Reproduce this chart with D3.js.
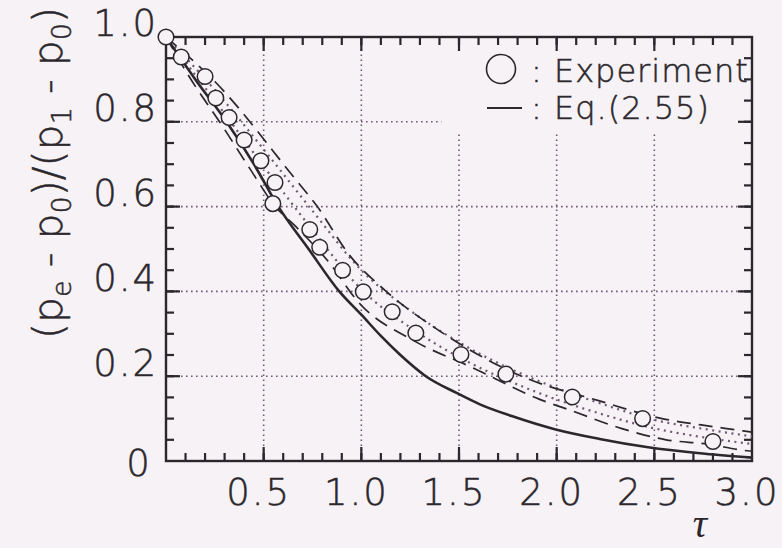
<!DOCTYPE html>
<html>
<head>
<meta charset="utf-8">
<script src="https://cdn.jsdelivr.net/npm/d3@7"></script>
<style>
body { margin: 0; background: #f6f2f5; }
</style>
</head>
<body>
<div class="chart"></div>
<script>
// values
const xTickVals = [0.5, 1.0, 1.5, 2.0, 2.5, 3.0];
const xTickLabels = ["0.5", "1.0", "1.5", "2.0", "2.5", "3.0"];
const yTickVals = [0.2, 0.4, 0.6, 0.8, 1.0];
const yTickLabels = ["0.2", "0.4", "0.6", "0.8", "1.0"];

// experiment (circles)
const expTau = [0, 0.078, 0.20, 0.255, 0.323, 0.40, 0.486, 0.558, 0.547, 0.736, 0.787, 0.904, 1.01, 1.158, 1.279, 1.51, 1.74, 2.08, 2.44, 2.80];
const expVal = [1.0, 0.953, 0.907, 0.856, 0.81, 0.757, 0.708, 0.657, 0.607, 0.546, 0.504, 0.45, 0.399, 0.352, 0.302, 0.251, 0.205, 0.151, 0.10, 0.046];

// Eq.(2.55) (solid)
const eqTau = [0, 0.15, 0.31, 0.45, 0.575, 0.73, 0.887, 1.0, 1.1, 1.2, 1.33, 1.49, 1.61, 1.77, 1.99, 2.22, 2.46, 2.76, 3.0];
const eqVal = [1.0, 0.90, 0.80, 0.70, 0.60, 0.50, 0.40, 0.345, 0.295, 0.25, 0.20, 0.16, 0.133, 0.106, 0.075, 0.052, 0.033, 0.017, 0.008];

// band round the experiment: dashed bounds
const upTau = [0, 0.25, 0.66, 0.77, 0.94, 1.12, 1.40, 1.84, 2.21, 2.54, 2.74, 2.94, 3.0];
const upVal = [1.0, 0.895, 0.666, 0.603, 0.485, 0.403, 0.307, 0.196, 0.143, 0.10, 0.085, 0.072, 0.068];
const loTau = [0, 0.11, 0.30, 0.43, 0.56, 0.66, 0.83, 0.99, 1.26, 1.57, 1.91, 2.08, 2.33, 2.56, 2.77, 2.96, 3.0];
const loVal = [1.0, 0.913, 0.782, 0.689, 0.60, 0.555, 0.471, 0.372, 0.286, 0.22, 0.146, 0.118, 0.077, 0.05, 0.04, 0.025, 0.023];

// band: dotted lines inside
const dotTau = [0, 0.25, 0.5, 0.75, 1.0, 1.25, 1.5, 1.75, 2.0, 2.25, 2.5, 2.75, 3.0];
const dotHiVal = [1.0, 0.875, 0.735, 0.59, 0.45, 0.355, 0.28, 0.22, 0.172, 0.132, 0.097, 0.076, 0.058];
const dotLoVal = [1.0, 0.85, 0.695, 0.545, 0.405, 0.315, 0.245, 0.19, 0.145, 0.108, 0.077, 0.056, 0.04];

const xGrid = [0.5, 1.0, 1.5, 2.0, 2.5];
const yGrid = [0.2, 0.4, 0.6, 0.8];

function init(){

    const w = 782, h = 548;
    const left = 166, right = 752, top = 37, bottom = 461;
    const bg = "#f6f2f5", ink = "#2b272c", gridInk = "#6e5a72";
    const font = "'DejaVu Sans', sans-serif";

    const x = d3.scaleLinear().domain([0, 3]).range([left, right]);
    const y = d3.scaleLinear().domain([0, 1]).range([bottom, top]);

    const svg = d3.select(".chart").append("svg").attr("width", w).attr("height", h).style("display", "block");
    svg.append("rect").attr("width", w).attr("height", h).attr("fill", bg);

    svg.append("clipPath").attr("id", "plot")
      .append("rect").attr("x", left).attr("y", top).attr("width", right - left).attr("height", bottom - top);

    // dotted grid, kept clear of the legend corner
    const grid = svg.append("g")
      .attr("stroke", gridInk)
      .attr("stroke-width", 1.6)
      .attr("stroke-dasharray", "1.6,3.4");

    grid.selectAll(".gx").data(xGrid).join("line").attr("class", "gx")
      .attr("x1", d => x(d)).attr("x2", d => x(d))
      .attr("y1", y(0)).attr("y2", d => d > 1.2 ? y(0.77) : y(1));

    grid.selectAll(".gy").data(yGrid).join("line").attr("class", "gy")
      .attr("y1", d => y(d)).attr("y2", d => y(d))
      .attr("x1", x(0)).attr("x2", d => d > 0.7 ? x(1.41) : x(3));

    // ticks on all four sides, pointing inward
    const minorX = d3.range(1, 30).map(i => i / 10);
    const minorY = d3.range(1, 20).map(i => i / 20);
    const ticks = svg.append("g").attr("stroke", ink).attr("stroke-width", 2.2);

    function xTicks(vals, len){
        ticks.append("g").selectAll("line").data(vals).join("line")
          .attr("x1", d => x(d)).attr("x2", d => x(d))
          .attr("y1", bottom).attr("y2", bottom - len);
        ticks.append("g").selectAll("line").data(vals).join("line")
          .attr("x1", d => x(d)).attr("x2", d => x(d))
          .attr("y1", top).attr("y2", top + len);
    }
    function yTicks(vals, len){
        ticks.append("g").selectAll("line").data(vals).join("line")
          .attr("y1", d => y(d)).attr("y2", d => y(d))
          .attr("x1", left).attr("x2", left + len);
        ticks.append("g").selectAll("line").data(vals).join("line")
          .attr("y1", d => y(d)).attr("y2", d => y(d))
          .attr("x1", right).attr("x2", right - len);
    }
    xTicks(minorX, 8);
    xTicks(xGrid, 14);
    yTicks(minorY, 8);
    yTicks(yGrid, 14);

    svg.append("rect")
      .attr("x", left).attr("y", top)
      .attr("width", right - left).attr("height", bottom - top)
      .attr("fill", "none").attr("stroke", ink).attr("stroke-width", 2.4);

    // curves
    const line = d3.line().x(d => x(d[0])).y(d => y(d[1])).curve(d3.curveMonotoneX);
    const zip = (a, b) => a.map((t, i) => [t, b[i]]);
    const curves = svg.append("g").attr("clip-path", "url(#plot)").attr("fill", "none");

    curves.append("path").attr("d", line(zip(dotTau, dotHiVal)))
      .attr("stroke", gridInk).attr("stroke-width", 2.2).attr("stroke-dasharray", "2,4.5");
    curves.append("path").attr("d", line(zip(dotTau, dotLoVal)))
      .attr("stroke", gridInk).attr("stroke-width", 2.2).attr("stroke-dasharray", "2,4.5");

    curves.append("path").attr("d", line(zip(upTau, upVal)))
      .attr("stroke", ink).attr("stroke-width", 1.7).attr("stroke-dasharray", "14,8");
    curves.append("path").attr("d", line(zip(loTau, loVal)))
      .attr("stroke", ink).attr("stroke-width", 1.7).attr("stroke-dasharray", "14,8");

    curves.append("path").attr("d", line(zip(eqTau, eqVal)))
      .attr("stroke", ink).attr("stroke-width", 2.6);

    svg.append("g").selectAll("circle")
      .data(zip(expTau, expVal))
      .join("circle")
      .attr("cx", d => x(d[0]))
      .attr("cy", d => y(d[1]))
      .attr("r", 7.8)
      .attr("fill", bg)
      .attr("stroke", ink)
      .attr("stroke-width", 1.5);

    // tick labels
    const labels = svg.append("g")
      .attr("fill", ink)
      .attr("stroke", ink)
      .attr("stroke-width", 0.5)
      .style("font-family", font)
      .style("font-size", "37px")
      .style("font-weight", 200);

    labels.selectAll(".xl").data(xTickVals).join("text").attr("class", "xl")
      .attr("x", d => x(d) - 5)
      .attr("y", 505)
      .attr("text-anchor", "middle")
      .style("letter-spacing", "2px")
      .text((d, i) => xTickLabels[i]);

    labels.selectAll(".yl").data(yTickVals).join("text").attr("class", "yl")
      .attr("x", left - 8)
      .attr("y", d => y(d) - 14)
      .attr("dy", "0.36em")
      .attr("text-anchor", "end")
      .style("letter-spacing", "2px")
      .text((d, i) => yTickLabels[i]);

    labels.append("text")
      .attr("x", 138).attr("y", 463).attr("dy", "0.36em")
      .attr("text-anchor", "middle")
      .text("0");

    // axis titles
    const yt = svg.append("text")
      .attr("transform", "translate(62,173) rotate(-90)")
      .attr("text-anchor", "middle")
      .attr("fill", ink)
      .attr("stroke", ink)
      .attr("stroke-width", 0.5)
      .style("font-family", font)
      .style("font-size", "41px")
      .style("font-weight", 200);
    const parts = [["(p", 0], ["e", 1], [" - p", 0], ["0", 1], [")/(p", 0], ["1", 1], [" - p", 0], ["0", 1], [")", 0]];
    parts.forEach(([s, sub]) => {
        yt.append("tspan")
          .attr("dy", sub ? 9 : -9)
          .style("font-size", sub ? "27px" : "41px")
          .text(s);
    });
    yt.select("tspan").attr("dy", 0);

    svg.append("text")
      .attr("x", 700).attr("y", 537)
      .attr("text-anchor", "middle")
      .attr("fill", ink)
      .style("font-family", "'Liberation Serif', serif")
      .style("font-style", "italic")
      .style("font-size", "40px")
      .text("τ");

    // legend
    const legend = svg.append("g")
      .attr("fill", ink)
      .style("font-family", font)
      .style("font-size", "32px")
      .style("font-weight", 200)
      .style("letter-spacing", "1px");
    legend.append("circle").attr("cx", 501).attr("cy", 69).attr("r", 14.5)
      .attr("fill", bg).attr("stroke", ink).attr("stroke-width", 1.6);
    legend.append("text").attr("x", 531).attr("y", 82)
      .attr("stroke", ink).attr("stroke-width", 0.5).text(": Experiment");
    legend.append("line").attr("x1", 487).attr("x2", 522).attr("y1", 108).attr("y2", 108)
      .attr("stroke", ink).attr("stroke-width", 2.2);
    legend.append("text").attr("x", 531).attr("y", 119)
      .attr("stroke", ink).attr("stroke-width", 0.5).text(": Eq.(2.55)");
}
window.onload = init;
</script>
</body>
</html>
